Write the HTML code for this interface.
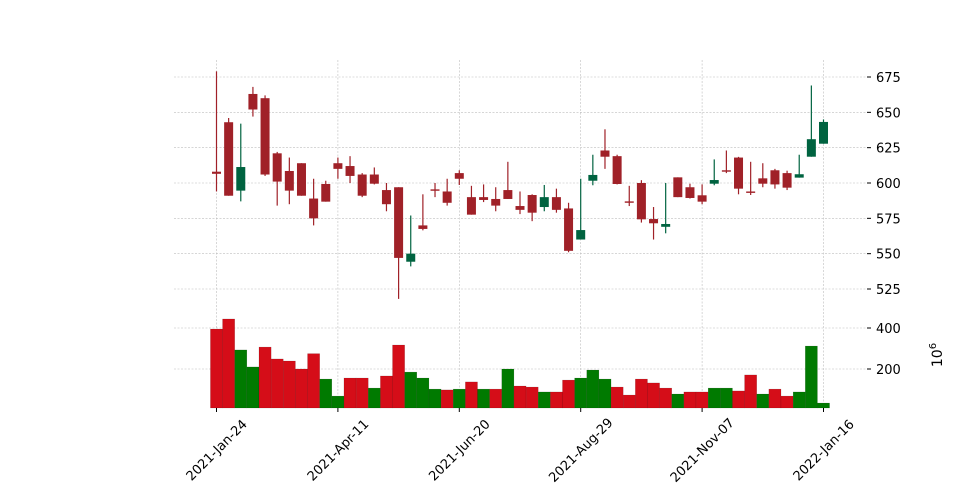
<!DOCTYPE html>
<html><head><meta charset="utf-8"><style>
html,body{margin:0;padding:0;background:#fff;}
svg{display:block;font-family:"DejaVu Sans","Liberation Sans",sans-serif;}
</style></head><body>
<svg id="chart" width="961" height="499" viewBox="0 0 961 499">
<g id="grid"></g>
<g id="candles"></g>
<g id="volume"></g>
<g id="axes"></g>
<text x="942" y="355" font-size="14" text-anchor="middle" transform="rotate(-90 942 355)">10<tspan dy="-6" font-size="10">6</tspan></text>
</svg>
<script>
const opens  = [608,643,594.6,663,660,621,608.5,614,589,599.3,614,612,606,606,595,597,544.3,570,595.5,594,607,590,590,588.7,595,583.7,591.5,583,590,582,560,601.6,623,619,587,600,574.5,569,604,597,591.3,599.5,609,618,594,603.3,609,607,603.8,618.6,627.8];
const highs  = [679,646,642,668,662,622,618,614,603,601.6,618,619,607,611,600,597,577,592,600,603,609,598,599,597,615,594,592,598.6,596,586,603,620,638,620,598,602,583,600,604,599.5,599,616.7,623,618.5,615,614,610,608.7,620,669,645];
const lows   = [594,591,587,647,605,584,585,591,570,586.8,603,600,590,599,580,518,541,566.5,590,584,598.6,577.6,586.5,580,588.7,578,573,580,579,551,560,598.4,610,599,583.7,572,560,564.4,590,589,585,598.4,607,592,591.5,597,596,595,603.8,618.6,627.8];
const closes = [606.5,591,611.3,652,606,601,594.6,591,575,586.8,610,605,591,599.5,585,547,550,567.5,594.5,586,603,577.6,588,584,588.7,581,579,590,581,552,566.7,605.7,618.6,599.3,586,574.3,571.5,571,590,589.4,586.8,602.1,608,596,593,599.5,599,596.7,606.2,631,643.2];
const volumes = [395,444,293,210,307,249,239,200,275,151,68,156,156,107,166,317,185,156,102,98,102,137,102,102,200,117,112,88,88,146,156,195,151,112,73,151,132,107,78,88,88,107,107,93,171,78,102,68,88,312,34];
const tickIdx = [0,10,20,30,40,50];
const tickLabels = ["2021-Jan-24","2021-Apr-11","2021-Jun-20","2021-Aug-29","2021-Nov-07","2022-Jan-16"];
const priceTicks = [525,550,575,600,625,650,675];
const volTicks = [200,400];

const NS="http://www.w3.org/2000/svg";
function mk(tag,attrs,parent){const e=document.createElementNS(NS,tag);for(const k in attrs)e.setAttribute(k,attrs[k]);parent.appendChild(e);return e;}
const X0=216.5, DX=(823.5-216.5)/50;
const xs=i=>X0+i*DX;
const yp=v=>77+(675-v)*(212/150);
const yv=v=>369-(v-200)*0.205;
const VB=408, L=174, R=866;
const grid=document.getElementById('grid'), cg=document.getElementById('candles'), vg=document.getElementById('volume'), ax=document.getElementById('axes');
const GC='#bdbdbd';
priceTicks.forEach(t=>{
  const l=mk('line',{x1:L,x2:R,y1:yp(t),y2:yp(t),stroke:GC,'stroke-width':0.6,'stroke-dasharray':'2,1.5'},grid);
  
  
  const tk=mk('line',{x1:867,x2:871,y1:yp(t),y2:yp(t),stroke:'#000','stroke-width':1},ax);
  
  
  const tx=mk('text',{x:876,y:yp(t)+5,'font-size':13},ax);tx.textContent=t;
  
  
});
volTicks.forEach(t=>{
  const l=mk('line',{x1:L,x2:R,y1:yv(t),y2:yv(t),stroke:GC,'stroke-width':0.6,'stroke-dasharray':'2,1.5'},grid);
  
  
  const tk=mk('line',{x1:867,x2:871,y1:yv(t),y2:yv(t),stroke:'#000','stroke-width':1},ax);
  
  
  const tx=mk('text',{x:876,y:yv(t)+5,'font-size':13},ax);tx.textContent=t;
  
  
});
tickIdx.forEach((ti,k)=>{
  const x=xs(ti);
  const l=mk('line',{x1:x,x2:x,y1:60,y2:VB,stroke:GC,'stroke-width':0.6,'stroke-dasharray':'2,1.5'},grid);
  
  
  const tk=mk('line',{x1:x,x2:x,y1:VB,y2:VB+4,stroke:'#000','stroke-width':1},ax);
  
  
  const cy=450;
  const tx=mk('text',{x:x,y:cy+4.5,'font-size':13,'text-anchor':'middle',transform:`rotate(-45 ${x} ${cy})`},ax);
  tx.textContent=tickLabels[k];
  
  
});

const W=9;
opens.forEach((o,i)=>{
  const c=closes[i], up=c>=o, col=up?'#006340':'#A02128';
  const x=xs(i);
  const w=mk('line',{x1:x,x2:x,y1:yp(highs[i]),y2:yp(lows[i]),stroke:col,'stroke-width':1.2},cg);
  
  
  const top=yp(Math.max(o,c)), h=Math.max(1.2,yp(Math.min(o,c))-top);
  const b=mk('rect',{x:x-W/2,y:top,width:W,height:h,fill:col},cg);
  
  
});
volumes.forEach((v,i)=>{
  const up=i===0?false:closes[i]>=closes[i-1];
  const col=up?'#007a00':'#d50d18';
  const x=xs(i), top=yv(v);
  const r=mk('rect',{x:x-DX/2,y:top,width:DX,height:VB-top,fill:col,stroke:'rgba(0,0,0,0.25)','stroke-width':0.4},vg);
  
  
});
</script>
</body></html>
